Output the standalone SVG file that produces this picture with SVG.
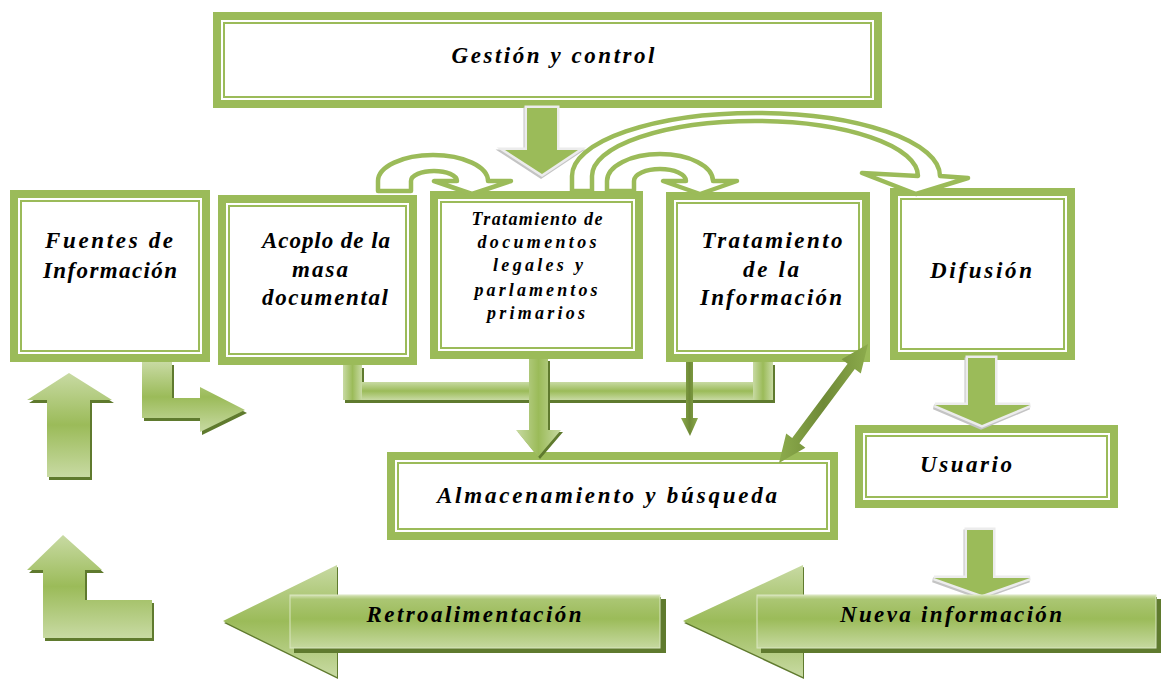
<svg xmlns="http://www.w3.org/2000/svg" width="1163" height="679" viewBox="0 0 1163 679">
<style>
.bo{fill:#fff;stroke:#9bbb59;stroke-width:8}
.bi{fill:none;stroke:#9bbb59;stroke-width:2}
.t{font-family:"Liberation Serif","DejaVu Serif",serif;font-weight:bold;font-style:italic;fill:#000;text-anchor:middle;font-size:23px}
.ts{font-size:18px}
.loop{fill:#fff;stroke:#9bbb59;stroke-width:4.5;stroke-linejoin:round}
.chev{fill:#9bbb59;stroke:#ececec;stroke-width:5;paint-order:stroke;stroke-linejoin:miter}
.chevsh{fill:none;stroke:#c4c4c4;stroke-width:5;stroke-linejoin:miter}
.sh{fill:#5f7a2e}
.gv{fill:url(#gV)}
.gh{fill:url(#gH)}
.body{fill:url(#gB)}
</style>
<defs>
<linearGradient id="gV" x1="0" y1="0" x2="0" y2="1">
<stop offset="0" stop-color="#c8daa3"/><stop offset="0.5" stop-color="#9bbb59"/><stop offset="1" stop-color="#c8daa3"/>
</linearGradient>
<linearGradient id="gH" x1="0" y1="0" x2="1" y2="0">
<stop offset="0" stop-color="#c8daa3"/><stop offset="0.5" stop-color="#9bbb59"/><stop offset="1" stop-color="#c8daa3"/>
</linearGradient>
<linearGradient id="gB" x1="0" y1="0" x2="0" y2="1">
<stop offset="0" stop-color="#d5e3b6"/><stop offset="0.08" stop-color="#abc673"/><stop offset="0.45" stop-color="#9bbb59"/><stop offset="1" stop-color="#c6d9a0"/>
</linearGradient>
<linearGradient id="gD" x1="0" y1="0" x2="1" y2="0">
<stop offset="0" stop-color="#8cab4c"/><stop offset="0.5" stop-color="#6f8a37"/><stop offset="1" stop-color="#8cab4c"/>
</linearGradient>
</defs>

<g id="node-gestion">
<rect class="bo" x="217" y="16" width="661" height="88"/><rect class="bi" x="224" y="23" width="647" height="74"/>
<text class="t" x="553" y="63" textLength="203" lengthAdjust="spacing">Gestión y control</text>
</g>
<g id="node-fuentes">
<rect class="bo" x="14" y="194" width="192" height="164"/><rect class="bi" x="21" y="201" width="178" height="150"/>
<text class="t" x="109" y="248" textLength="128" lengthAdjust="spacing">Fuentes de</text>
<text class="t" x="110" y="278" textLength="134" lengthAdjust="spacing">Información</text>
</g>
<g id="node-acoplo">
<rect class="bo" x="222" y="199" width="191" height="162"/><rect class="bi" x="229" y="206" width="177" height="148"/>
<text class="t" x="326" y="248" textLength="128" lengthAdjust="spacing">Acoplo de la</text>
<text class="t" x="320" y="277" textLength="56" lengthAdjust="spacing">masa</text>
<text class="t" x="325" y="305" textLength="126" lengthAdjust="spacing">documental</text>
</g>
<g id="node-tratdocs">
<rect class="bo" x="434" y="195" width="205" height="160"/><rect class="bi" x="441" y="202" width="191" height="146"/>
<text class="t ts" x="537" y="225" textLength="131" lengthAdjust="spacing">Tratamiento de</text>
<text class="t ts" x="537" y="248" textLength="119" lengthAdjust="spacing">documentos</text>
<text class="t ts" x="538" y="271" textLength="90" lengthAdjust="spacing">legales y</text>
<text class="t ts" x="536" y="296" textLength="123" lengthAdjust="spacing">parlamentos</text>
<text class="t ts" x="536" y="319" textLength="98" lengthAdjust="spacing">primarios</text>
</g>
<g id="node-tratinfo">
<rect class="bo" x="670" y="196" width="196" height="162"/><rect class="bi" x="677" y="203" width="182" height="148"/>
<text class="t" x="772" y="248" textLength="141" lengthAdjust="spacing">Tratamiento</text>
<text class="t" x="771" y="277" textLength="56" lengthAdjust="spacing">de la</text>
<text class="t" x="771" y="305" textLength="142" lengthAdjust="spacing">Información</text>
</g>
<g id="node-difusion">
<rect class="bo" x="894" y="192" width="177" height="164"/><rect class="bi" x="901" y="199" width="163" height="150"/>
<text class="t" x="981" y="278" textLength="102" lengthAdjust="spacing">Difusión</text>
</g>
<g id="node-usuario">
<rect class="bo" x="859" y="429" width="255" height="75"/><rect class="bi" x="866" y="436" width="241" height="61"/>
<text class="t" x="966" y="472" textLength="92" lengthAdjust="spacing">Usuario</text>
</g>
<g id="node-almacenamiento">
<rect class="bo" x="391" y="456" width="443" height="80"/><rect class="bi" x="398" y="463" width="429" height="66"/>
<text class="t" x="607" y="503" textLength="340" lengthAdjust="spacing">Almacenamiento y búsqueda</text>
</g>

<g id="connectors">
<path class="loop" d="M572,191 L572,176 A184,63 0 0 1 940,176 L968,178 L916,194 L862,173 L918,176 A163,55 0 0 0 592,176 L592,191 Z"/>
<path class="loop" d="M378,191 L378,181 A55,26 0 0 1 488,181 L511,181 L472,194 L434,181 L457,181 A23,10 0 0 0 411,181 L411,191 Z"/>
<path class="loop" d="M607,191 L607,181 A53,27 0 0 1 713,181 L737,181 L700,194 L663,181 L686,181 A26,12 0 0 0 634,181 L634,191 Z"/>
<path class="chevsh" transform="translate(-1,2)" d="M527,108 L557,108 L557,150 L578,150 L542,174 L505,150 L527,150 Z"/>
<path class="chev" d="M527,108 L557,108 L557,150 L578,150 L542,174 L505,150 L527,150 Z"/>
<path class="chevsh" transform="translate(-1,2)" d="M968,358 L995,358 L995,405 L1030,405 L982,425 L935,405 L968,405 Z"/>
<path class="chev" d="M968,358 L995,358 L995,405 L1030,405 L982,425 L935,405 L968,405 Z"/>
<path class="chevsh" transform="translate(-1,2)" d="M967,530 L993,530 L993,578 L1030,578 L982,595 L934,578 L967,578 Z"/>
<path class="chev" d="M967,530 L993,530 L993,578 L1030,578 L982,595 L934,578 L967,578 Z"/>
<path class="sh" transform="translate(2,3)" d="M343,365 L362,365 L362,382 L753,382 L753,362 L773,362 L773,400 L343,400 Z"/>
<rect class="gv" x="343" y="382" width="430" height="18"/>
<rect class="gh" x="343" y="365" width="19" height="35"/>
<rect class="gh" x="753" y="362" width="20" height="38"/>
<path class="sh" transform="translate(2,2)" d="M529,359 L548,359 L548,430 L561,430 L538,457 L516,430 L529,430 Z"/>
<path class="gh" d="M529,359 L548,359 L548,430 L561,430 L538,457 L516,430 L529,430 Z"/>
<path fill="url(#gD)" d="M686,362 L693,362 L693,418 L698,418 L690,436 L681,418 L686,418 Z"/>
<path fill="url(#gD)" d="M868,344 L860.8,373.6 L854.8,369.1 L799.4,443.3 L805.4,447.8 L779,463 L786.2,433.4 L792.2,437.9 L847.6,363.7 L841.6,359.2 Z"/>
<path class="sh" transform="translate(2,3)" d="M142,362 L172,362 L172,398 L200,398 L200,387 L245,410 L200,432 L200,418 L142,418 Z"/>
<path class="gv" d="M142,362 L172,362 L172,398 L200,398 L200,387 L245,410 L200,432 L200,418 L142,418 Z"/>
<path class="sh" transform="translate(2,3)" d="M69,373 L112,400 L90,400 L90,477 L47,477 L47,400 L27,400 Z"/>
<path class="gv" d="M69,373 L112,400 L90,400 L90,477 L47,477 L47,400 L27,400 Z"/>
<path class="sh" transform="translate(2,3)" d="M63,535 L102,570 L85,570 L85,600 L152,600 L152,638 L43,638 L43,570 L27,570 Z"/>
<path class="gv" d="M63,535 L102,570 L85,570 L85,600 L152,600 L152,638 L43,638 L43,570 L27,570 Z"/>
<path class="sh" transform="translate(1,2)" d="M223,621 L337,565 L337,595 L660,595 L660,648 L337,648 L337,677 Z"/>
<path class="gv" d="M223,621 L337,565 L337,595 L660,595 L660,648 L337,648 L337,677 Z"/>
<rect class="sh" x="294" y="599" width="372" height="54"/>
<rect class="body" x="290" y="595" width="370" height="53" stroke="#d9e6bf" stroke-width="1"/>
<text class="t" x="474" y="622" textLength="215" lengthAdjust="spacing">Retroalimentación</text>
<path class="sh" transform="translate(1,2)" d="M683,621 L803,565 L803,595 L1156,595 L1156,648 L803,648 L803,677 Z"/>
<path class="gv" d="M683,621 L803,565 L803,595 L1156,595 L1156,648 L803,648 L803,677 Z"/>
<rect class="sh" x="761" y="599" width="400" height="54"/>
<rect class="body" x="757" y="595" width="399" height="53" stroke="#d9e6bf" stroke-width="1"/>
<text class="t" x="951" y="622" textLength="222" lengthAdjust="spacing">Nueva información</text>
</g>
</svg>
